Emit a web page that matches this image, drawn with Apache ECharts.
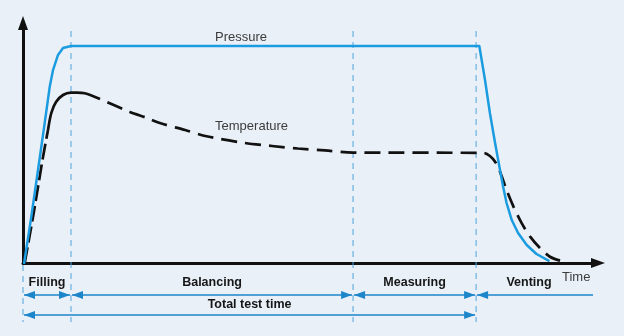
<!DOCTYPE html>
<html>
<head>
<meta charset="utf-8">
<script src="https://cdn.jsdelivr.net/npm/echarts@6/dist/echarts.min.js"></script>
<style>
  html, body { margin: 0; padding: 0; background: #eaf0f8; }
  #chart { width: 624px; height: 336px; }
</style>
</head>
<body>
<div id="chart"></div>
<script>
// Pressure decay test cycle: test pressure and gas temperature over one cycle

// Phase names and their boundaries on the time axis
const phaseNames = ['Filling', 'Balancing', 'Measuring', 'Venting'];
const phaseBounds = [0, 8.35, 57.4, 78.8, 97.2];
const totalLabel = 'Total test time';
const timeLabel = 'Time';

// Test pressure (relative units)
const pressureTime  = [0.2, 1.44, 2.61, 3.77, 4.64, 5.22, 6.09, 6.96, 8.35, 79.36, 80.35, 81.2, 82.1, 82.96, 83.5, 84.1, 85.0, 86.1, 87.6, 89.3, 91.4];
const pressureValue = [0, 19.2, 38.75, 58.3, 73.3, 80.4, 86.7, 89.6, 90.4, 90.4, 76.25, 62.5, 50, 38.75, 31.8, 25, 17.9, 12.5, 7.5, 3.75, 1];

// Gas temperature (relative units)
const temperatureTime  = [0.3, 1.74, 2.61, 3.48, 4.35, 4.92, 5.74, 6.96, 8.35, 9.39, 10.73, 13.4, 14.6, 18.6, 21.6, 23.8, 28.2, 31.7, 38.6, 43.3, 47.8, 52.5, 57.4, 80.05, 81.2, 82.1, 82.96, 84.1, 85.3, 86.7, 88.2, 89.9, 91.65, 93.4];
const temperatureValue = [0, 19.2, 31.7, 44.2, 55.4, 62.5, 67.1, 70, 71, 71, 70.7, 68.3, 67.1, 62.9, 60.4, 58.3, 55.4, 52.9, 50, 48.75, 47.7, 46.9, 46, 45.9, 44.6, 42.2, 38, 30.4, 23.5, 16.7, 11, 6.25, 2.6, 1];
// the curve is drawn solid between these two indices and dashed elsewhere
const temperatureSolidFrom = 4;
const temperatureSolidTo = 11;

const seriesNames = ['Pressure', 'Temperature'];

const FONT = "'Liberation Sans', Arial, Helvetica, sans-serif";
const GUIDE = '#4fa4dc';
const ARROW = '#1d86cb';
const PRESSURE = '#1c9ce0';

const pressureData = pressureTime.map((t, i) => [t, pressureValue[i]]);
const tempData = temperatureTime.map((t, i) => [t, temperatureValue[i]]);
const tempRise = tempData.slice(0, temperatureSolidFrom + 1);
const tempSolid = tempData.slice(temperatureSolidFrom, temperatureSolidTo + 1);
const tempFall = tempData.slice(temperatureSolidTo);

function head(x, y, dir) {
  // filled triangle, tip at (x, y), pointing right for dir = 1 and left for dir = -1
  return {
    type: 'polygon',
    shape: { points: [[x, y], [x - dir * 11, y - 4], [x - dir * 11, y + 4]] },
    style: { fill: ARROW }
  };
}

function hLine(x1, x2, y) {
  return { type: 'line', shape: { x1: x1, y1: y, x2: x2, y2: y }, style: { stroke: ARROW, lineWidth: 1.5 } };
}

function label(text, x, y, bold, color) {
  return {
    type: 'text',
    style: {
      text: text, x: x, y: y,
      align: bold ? 'center' : 'left', verticalAlign: 'middle',
      font: (bold ? 'bold 12.5px ' : '13px ') + FONT,
      fill: color
    }
  };
}

function renderAnnotations(params, api) {
  const origin = api.coord([0, 0]);
  const axisY = origin[1];
  const topY = api.coord([0, 100])[1] + 8;
  const endX = api.coord([100, 0])[0] - 5;
  const xs = phaseBounds.map(t => api.coord([t, 0])[0]);
  const children = [];

  // dashed guides at the phase boundaries
  for (let i = 0; i < 4; i++) {
    children.push({
      type: 'line',
      shape: { x1: xs[i], y1: i === 0 ? axisY + 2 : topY, x2: xs[i], y2: axisY + 59 },
      style: { stroke: GUIDE, lineWidth: 1, lineDash: [6, 5] }
    });
  }

  // one double arrow per phase
  const rowY = axisY + 32;
  for (let i = 0; i < 4; i++) {
    const a = xs[i] + 1;
    const b = i < 3 ? xs[i + 1] - 1 : endX;
    children.push(hLine(a, b, rowY));
    children.push(head(a, rowY, -1));
    if (i < 3) children.push(head(b, rowY, 1));
    children.push(label(phaseNames[i], (xs[i] + xs[i + 1]) / 2, axisY + 20, true, '#161616'));
  }

  // total test time: filling through measuring
  const totY = axisY + 52;
  children.push(hLine(xs[0] + 1, xs[3] - 1, totY));
  children.push(head(xs[0] + 1, totY, -1));
  children.push(head(xs[3] - 1, totY, 1));
  children.push(label(totalLabel, (xs[0] + xs[3]) / 2, axisY + 42, true, '#161616'));

  // curve names
  const p = api.coord([33.4, 90.4]);
  children.push(label(seriesNames[0], p[0], p[1] - 9, false, '#3c3c3c'));
  const q = api.coord([33.4, 57.1]);
  children.push(label(seriesNames[1], q[0], q[1], false, '#3c3c3c'));

  return { type: 'group', children: children };
}

const chart = echarts.init(document.getElementById('chart'), null, { renderer: 'canvas' });

const axisLine = {
  show: true,
  symbol: ['none', 'triangle'],
  symbolSize: [10, 14],
  lineStyle: { color: '#111111', width: 3 }
};

const tempStyle = { color: '#111111', width: 2.7 };

chart.setOption({
  backgroundColor: '#eaf0f8',
  animation: false,
  grid: { left: 23, right: 26, top: 23, bottom: 73, containLabel: false },
  xAxis: {
    type: 'value', min: 0, max: 100,
    axisLine: axisLine,
    axisTick: { show: false }, axisLabel: { show: false }, splitLine: { show: false },
    name: timeLabel, nameLocation: 'end', nameGap: -36,
    nameTextStyle: { color: '#3c3c3c', fontFamily: FONT, fontSize: 13, verticalAlign: 'top', padding: [8, 0, 0, 0] }
  },
  yAxis: {
    type: 'value', min: 0, max: 100,
    axisLine: axisLine,
    axisTick: { show: false }, axisLabel: { show: false }, splitLine: { show: false }
  },
  series: [
    {
      type: 'custom', name: 'annotations', z: 1, silent: true,
      data: [[0, 0]],
      renderItem: renderAnnotations
    },
    {
      type: 'line', name: seriesNames[0], z: 4, data: pressureData,
      showSymbol: false, silent: true,
      lineStyle: { color: PRESSURE, width: 2.5, join: 'round', cap: 'round' }
    },
    {
      type: 'line', name: seriesNames[1] + ' (rise)', z: 3, data: tempRise,
      showSymbol: false, silent: true, smooth: 0.3,
      lineStyle: Object.assign({}, tempStyle, { type: [16, 5] })
    },
    {
      type: 'line', name: seriesNames[1], z: 3, data: tempSolid,
      showSymbol: false, silent: true, smooth: 0.3,
      lineStyle: tempStyle
    },
    {
      type: 'line', name: seriesNames[1] + ' (fall)', z: 3, data: tempFall,
      showSymbol: false, silent: true, smooth: 0.3,
      lineStyle: Object.assign({}, tempStyle, { type: [16, 8], dashOffset: 16 })
    }
  ]
});
</script>
</body>
</html>
